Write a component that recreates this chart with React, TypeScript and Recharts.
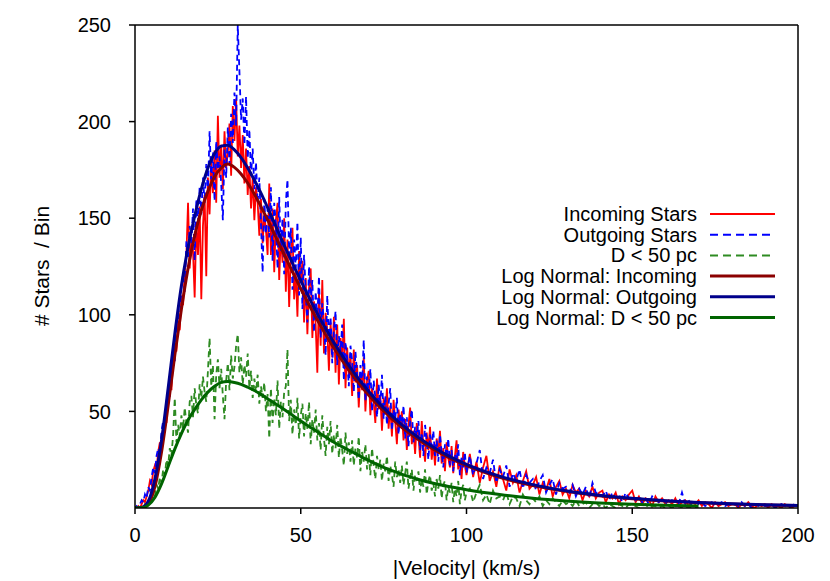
import React from "react";
import { LineChart, Line, XAxis, YAxis, Label, ReferenceLine } from "recharts";

const FONT = "'Liberation Sans', Arial, Helvetica, sans-serif";

// Histogram counts. *_LO: bins 0..100 km/s every 0.5, *_HI: bins 101..200 every 1
const INCOMING_LO = [
  0,
  0, 1, 0, 2, 4, 3, 6, 9, 14, 12,
  19, 22, 20, 29, 34, 31, 42, 47, 44, 58,
  66, 61, 78, 85, 81, 97, 92, 110, 105, 122,
  131, 158, 124, 140, 133, 109, 148, 131, 156, 108,
  146, 162, 120, 171, 152, 180, 163, 185, 158, 203,
  171, 188, 165, 195, 176, 184, 199, 172, 208, 190,
  212, 182, 198, 176, 193, 168, 186, 162, 177, 155,
  171, 149, 166, 158, 141, 160, 137, 152, 144, 131,
  168, 131, 155, 122, 149, 158, 118, 142, 127, 150,
  112, 139, 104, 131, 145, 108, 122, 99, 133, 117,
  128, 96, 119, 90, 114, 124, 88, 107, 95, 70,
  112, 84, 118, 80, 101, 92, 71, 96, 78, 99,
  70, 95, 64, 88, 76, 98, 62, 83, 68, 80,
  58, 82, 65, 74, 52, 70, 61, 78, 50, 66,
  71, 48, 62, 55, 44, 67, 51, 58, 40, 57,
  49, 62, 41, 53, 37, 56, 45, 33, 51, 42,
  50, 35, 46, 30, 43, 52, 33, 40, 28, 44,
  37, 26, 45, 32, 24, 39, 30, 42, 25, 33,
  22, 36, 28, 40, 23, 31, 19, 34, 26, 21,
  32, 18, 27, 35, 20, 25, 15, 29, 22, 17,
];
const INCOMING_HI = [
  28, 16, 24, 13, 21, 27, 14, 19, 11, 22,
  15, 9, 20, 13, 17, 8, 14, 19, 10, 12,
  16, 7, 13, 9, 15, 6, 11, 14, 7, 10,
  5, 12, 8, 10, 4, 9, 6, 11, 5, 8,
  9, 3, 7, 5, 8, 2, 6, 4, 7, 9,
  3, 6, 2, 5, 4, 1, 6, 3, 5, 2,
  4, 2, 5, 1, 3, 4, 1, 3, 2, 4,
  1, 3, 2, 0, 3, 1, 2, 3, 1, 2,
  2, 0, 2, 1, 3, 1, 0, 2, 1, 2,
  0, 2, 1, 1, 0, 2, 1, 0, 1, 1,
];

const OUTGOING_LO = [
  0,
  1, 0, 2, 4, 3, 7, 5, 11, 9, 16,
  21, 18, 27, 31, 28, 40, 45, 41, 55, 60,
  57, 73, 80, 76, 94, 101, 96, 115, 121, 112,
  138, 130, 146, 137, 155, 128, 160, 148, 166, 152,
  171, 158, 178, 163, 195, 170, 184, 159, 190, 175,
  182, 168, 149, 186, 171, 197, 178, 204, 189, 215,
  198, 250, 226, 201, 212, 188, 213, 181, 196, 172,
  186, 165, 179, 158, 171, 147, 122, 160, 142, 155,
  140, 166, 128, 158, 147, 124, 161, 133, 150, 121,
  158, 170, 131, 145, 113, 139, 124, 148, 110, 140,
  103, 131, 112, 96, 125, 107, 118, 91, 112, 98,
  120, 88, 106, 96, 79, 110, 86, 99, 75, 92,
  102, 74, 89, 81, 95, 66, 86, 77, 63, 84,
  76, 60, 81, 69, 56, 74, 64, 87, 55, 68,
  59, 72, 50, 66, 57, 47, 64, 53, 69, 46,
  58, 43, 54, 62, 40, 51, 46, 57, 38, 49,
  41, 53, 36, 47, 32, 45, 51, 34, 42, 37,
  45, 30, 39, 27, 43, 35, 25, 38, 32, 40,
  27, 35, 24, 38, 29, 21, 33, 26, 36, 22,
  30, 19, 28, 24, 33, 17, 26, 21, 29, 18,
];
const OUTGOING_HI = [
  27, 17, 23, 30, 15, 21, 18, 25, 13, 20,
  16, 22, 11, 18, 14, 20, 10, 17, 13, 15,
  9, 14, 17, 8, 12, 15, 7, 13, 10, 11,
  8, 12, 6, 10, 7, 11, 5, 13, 8, 7,
  6, 9, 4, 8, 5, 7, 3, 8, 5, 6,
  4, 6, 3, 5, 2, 6, 4, 3, 5, 3,
  2, 4, 3, 2, 8, 2, 4, 1, 3, 2,
  3, 1, 2, 3, 1, 2, 3, 1, 2, 1,
  2, 1, 3, 1, 2, 0, 2, 1, 2, 1,
  1, 2, 0, 1, 2, 1, 0, 1, 2, 1,
];

const NEAR_LO = [
  0,
  0, 0, 0, 1, 0, 2, 1, 3, 5, 4,
  8, 6, 12, 10, 16, 13, 20, 17, 25, 22,
  31, 27, 38, 57, 34, 43, 37, 48, 41, 52,
  44, 39, 55, 58, 47, 62, 53, 49, 64, 57,
  68, 60, 55, 71, 88, 63, 74, 46, 69, 77,
  62, 72, 58, 46, 66, 75, 61, 79, 67, 73,
  84, 90, 70, 78, 64, 74, 68, 80, 62, 71,
  57, 67, 60, 69, 54, 63, 57, 65, 50, 59,
  36, 62, 44, 57, 48, 66, 41, 55, 47, 60,
  63, 82, 45, 56, 38, 51, 43, 57, 36, 48,
  54, 37, 49, 41, 55, 33, 46, 39, 51, 35,
  44, 30, 48, 36, 27, 42, 33, 45, 28, 38,
  31, 43, 26, 37, 30, 22, 39, 28, 34, 24,
  35, 22, 31, 26, 37, 19, 29, 24, 33, 20,
  28, 17, 31, 22, 15, 27, 20, 25, 14, 23,
  19, 27, 14, 22, 17, 11, 24, 16, 20, 13,
  22, 12, 18, 24, 10, 16, 20, 9, 17, 14,
  19, 8, 15, 11, 20, 7, 14, 17, 9, 13,
  6, 15, 10, 17, 5, 12, 14, 4, 11, 8,
  13, 3, 10, 6, 14, 2, 9, 12, 4, 8,
];
const NEAR_HI = [
  10, 3, 8, 12, 4, 7, 2, 9, 5, 6,
  4, 8, 2, 6, 5, 1, 7, 4, 2, 5,
  3, 6, 1, 4, 2, 5, 3, 1, 4, 2,
  3, 1, 4, 1, 2, 3, 0, 2, 3, 1,
  2, 0, 2, 1, 0, 2, 1, 0, 2, 1,
  1, 0, 1, 2, 0, 1, 1, 0, 1, 0,
  1, 0, 1, 1, 0, 1, 0, 1, 0, 0,
];

const FIT_V = [
  0, 2, 4, 6, 8, 10, 12, 14, 16, 18, 20, 22, 24, 26, 28, 30, 32, 34, 36, 38, 40,
  45, 50, 55, 60, 65, 70, 75, 80, 85, 90, 95, 100, 110, 120, 130, 140, 150, 160,
  170, 180, 190, 200,
];
const FIT_IN = [
  0, 0.2, 2.3, 11, 29, 53, 79, 103, 124, 141, 154, 164, 171.5, 176, 178, 176.3,
  172.9, 168.2, 162.5, 156, 149.2, 131.2, 113.5, 97.3, 82.8, 70.2, 59.4, 50.2,
  42.4, 35.9, 30.4, 25.8, 21.9, 15.9, 11.6, 8.6, 6.4, 4.8, 3.6, 2.7, 2.1, 1.6,
  1.3,
];
const FIT_OUT = [
  0, 0.3, 3.5, 15, 35, 62, 90, 115, 135, 151, 165, 176, 183.5, 187.3, 187.8,
  185.4, 181.4, 176, 169.8, 163, 155.5, 136, 117.7, 100.6, 85.6, 72.5, 61.3,
  51.8, 43.8, 37.1, 31.4, 26.6, 22.6, 16.5, 12.1, 8.9, 6.6, 5.0, 3.8, 2.9, 2.2,
  1.7, 1.3,
];
const FIT_NEAR = [
  0, 0.1, 1.5, 5.5, 12.5, 21.5, 30.5, 38.5, 45.5, 51, 56, 60, 63, 65, 65.5, 65,
  64, 62.5, 60.8, 58.8, 56.6, 51, 45, 39.5, 34, 29.5, 25, 21, 17.8, 15, 12.8, 11,
  9.5, 7, 5, 3.6, 2.6, 1.9, 1.4, 1.0,
];

const X_TICKS = [0, 50, 100, 150, 200];
const Y_TICKS = [50, 100, 150, 200, 250];

const binRows = (lo: number[], hi: number[]) => [
  ...lo.map((y, i) => ({ v: i * 0.5, y })),
  ...hi.map((y, i) => ({ v: 101 + i, y })),
];
const fitRows = (vals: number[]) => vals.map((y, i) => ({ v: FIT_V[i], y }));

const LEGEND = [
  { name: "Incoming Stars", color: "#ff0000", width: 2, dash: undefined },
  { name: "Outgoing Stars", color: "#0000ff", width: 2, dash: "8 5" },
  { name: "D < 50 pc", color: "#2e8b22", width: 2, dash: "8 5" },
  { name: "Log Normal: Incoming", color: "#8b0000", width: 3, dash: undefined },
  { name: "Log Normal: Outgoing", color: "#00008b", width: 3, dash: undefined },
  { name: "Log Normal: D < 50 pc", color: "#006400", width: 3, dash: undefined },
];

const tickStyle = { fontSize: 20, fill: "#000", fontFamily: FONT };

export default function App() {
  return (
    <div>
      <style>{`body{margin:0;overflow:hidden}`}</style>
      <LineChart
        width={830}
        height={581}
        margin={{ top: 25, right: 32, left: 65, bottom: 3 }}
        style={{ background: "#fff" }}
      >
        <XAxis
          type="number"
          dataKey="v"
          domain={[0, 200]}
          ticks={X_TICKS}
          interval={0}
          allowDataOverflow
          height={70}
          tickSize={6}
          tickMargin={14}
          tick={tickStyle}
          stroke="#000"
          strokeWidth={1.5}
        >
          <Label
            value="|Velocity| (km/s)"
            position="insideBottom"
            offset={3}
            style={{ fontSize: 21, fill: "#000", fontFamily: FONT }}
          />
        </XAxis>
        <YAxis
          type="number"
          domain={[0, 250]}
          ticks={Y_TICKS}
          interval={0}
          allowDataOverflow
          width={70}
          tickSize={6}
          tickMargin={18}
          tick={tickStyle}
          stroke="#000"
          strokeWidth={1.5}
        >
          <Label
            content={() => (
              <text
                x={42}
                y={266}
                transform="rotate(-90 42 266)"
                textAnchor="middle"
                dy="0.35em"
                fontSize={21}
                fontFamily={FONT}
                fill="#000"
                style={{ whiteSpace: "pre" }}
              >
                {"# Stars  / Bin"}
              </text>
            )}
          />
        </YAxis>

        <Line
          data={binRows(INCOMING_LO, INCOMING_HI)}
          dataKey="y"
          type="linear"
          stroke="#ff0000"
          strokeWidth={1.8}
          dot={false}
          activeDot={false}
          isAnimationActive={false}
        />
        <Line
          data={binRows(OUTGOING_LO, OUTGOING_HI)}
          dataKey="y"
          type="linear"
          stroke="#0000ff"
          strokeWidth={1.8}
          strokeDasharray="6 4"
          dot={false}
          activeDot={false}
          isAnimationActive={false}
        />
        <Line
          data={binRows(NEAR_LO, NEAR_HI)}
          dataKey="y"
          type="linear"
          stroke="#2e8b22"
          strokeWidth={1.8}
          strokeDasharray="6 4"
          dot={false}
          activeDot={false}
          isAnimationActive={false}
        />
        <Line
          data={fitRows(FIT_IN)}
          dataKey="y"
          type="monotone"
          stroke="#8b0000"
          strokeWidth={3}
          dot={false}
          activeDot={false}
          isAnimationActive={false}
        />
        <Line
          data={fitRows(FIT_OUT)}
          dataKey="y"
          type="monotone"
          stroke="#00008b"
          strokeWidth={3}
          dot={false}
          activeDot={false}
          isAnimationActive={false}
        />
        <Line
          data={fitRows(FIT_NEAR)}
          dataKey="y"
          type="monotone"
          stroke="#006400"
          strokeWidth={3}
          dot={false}
          activeDot={false}
          isAnimationActive={false}
        />

        {/* frame: top and right edges */}
        <ReferenceLine y={250} stroke="#000" strokeWidth={1.5} />
        <ReferenceLine x={200} stroke="#000" strokeWidth={1.5} />

        <g>
          {LEGEND.map((item, i) => {
            const y = 214 + i * 20.7;
            return (
              <g key={item.name}>
                <text
                  x={697}
                  y={y}
                  dy="0.35em"
                  textAnchor="end"
                  fontSize={20}
                  fontFamily={FONT}
                  fill="#000"
                >
                  {item.name}
                </text>
                <line
                  x1={710}
                  x2={775}
                  y1={y}
                  y2={y}
                  stroke={item.color}
                  strokeWidth={item.width}
                  strokeDasharray={item.dash}
                />
              </g>
            );
          })}
        </g>
      </LineChart>
    </div>
  );
}
